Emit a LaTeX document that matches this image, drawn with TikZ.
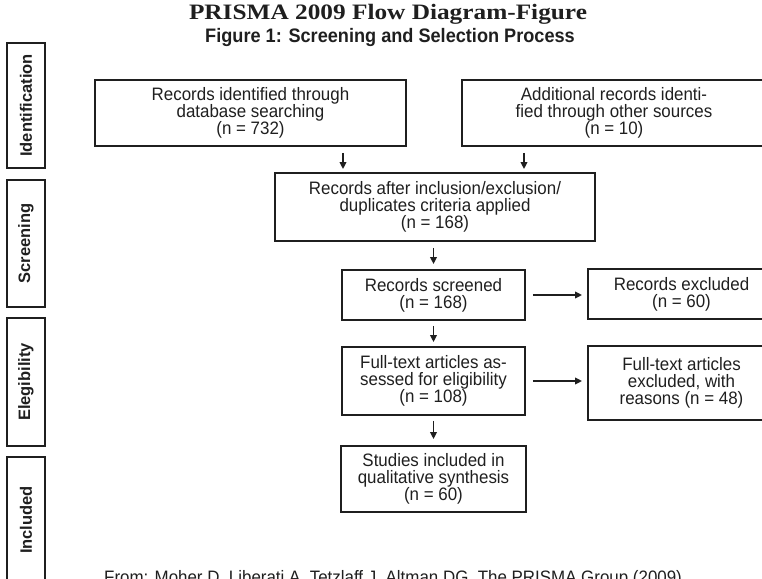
\documentclass[tikz,border=0pt]{standalone}
\usepackage{fontspec}
\setmainfont{Liberation Sans}
\newfontfamily\titlefont{Liberation Serif}[FakeStretch=1.15]
\newfontfamily\subfont{Liberation Sans}[FakeStretch=0.93]
\newfontfamily\boxfont{Liberation Sans}[FakeStretch=0.94]
\usetikzlibrary{arrows.meta}

\begin{document}
\begin{tikzpicture}[x=1pt, y=-1pt, color=black!88,
      -{Triangle[length=7pt,width=6.5pt]}, line width=1.8pt,
      every node/.append style={align=center,font=\boxfont\fontsize{18}{17}\selectfont}]
    \tikzstyle{box} = [draw, rectangle, inner sep=2pt]
    \tikzstyle{phase} = [draw, rectangle, rotate=90, minimum height=38pt,
      font=\bfseries\fontsize{16.5}{16.5}\selectfont]
    \useasboundingbox (0,0) rectangle (762,578);
    \clip (0,0) rectangle (762,578);
    % headings
    \node (title) [anchor=base, font=\titlefont\bfseries\fontsize{22}{22}\selectfont] at (388,20) {PRISMA 2009 Flow Diagram-Figure};
    \node (subtitle) [anchor=base, font=\subfont\bfseries\fontsize{19.5}{19.5}\selectfont] at (390,43) {Figure 1: Screening and Selection Process};
    % phases on the left
    \node (identification) [phase, minimum width=125pt] at (26,105.5) {Identification};
    \node (screening) [phase, minimum width=127pt] at (26,243.5) {Screening};
    \node (eligibility) [phase, minimum width=128pt] at (26,382) {Elegibility};
    \node (includedlab) [phase, minimum width=126pt] at (26,520) {Included};
    % flow boxes
    \node (database) [box, minimum width=311pt, minimum height=66pt] at (250.5,113) {Records identified through\\database searching\\(n = 732)};
    \node (other) [box, minimum width=304pt, minimum height=66pt] at (614,113) {Additional records identi-\\fied through other sources\\(n = 10)};
    \node (afterdup) [box, minimum width=320pt, minimum height=68pt] at (435,207) {Records after inclusion/exclusion/\\duplicates criteria applied\\(n = 168)};
    \node (screened) [box, minimum width=183pt, minimum height=50pt] at (433.5,295) {Records screened\\(n = 168)};
    \node (excl) [box, minimum width=187pt, minimum height=50pt] at (681.5,294) {Records excluded\\(n = 60)};
    \node (fulltext) [box, minimum width=183pt, minimum height=68pt] at (433.5,381) {Full-text articles as-\\sessed for eligibility\\(n = 108)};
    \node (fullexcl) [box, minimum width=187pt, minimum height=74pt] at (681.5,383) {Full-text articles\\excluded, with\\reasons (n = 48)};
    \node (studies) [box, minimum width=185pt, minimum height=66pt] at (433.5,479) {Studies included in\\qualitative synthesis\\(n = 60)};
    \node (source) [anchor=base west] at (100,583) {From: Moher D, Liberati A, Tetzlaff J, Altman DG, The PRISMA Group (2009).};
    % arrows
    \coordinate (dbin) at ([xshift=-92pt]afterdup.north);
    \coordinate (otherin) at ([xshift=89pt]afterdup.north);
    \draw [shorten <=6pt, shorten >=3pt] (database.south -| dbin) -- (dbin);
    \draw [shorten <=6pt, shorten >=3pt] (other.south -| otherin) -- (otherin);
    \draw [shorten <=6pt, shorten >=5pt] (afterdup.south -| screened) -- (screened);
    \draw [shorten <=7pt, shorten >=5pt] (screened.east) -- (screened.east -| excl.west);
    \draw [shorten <=5pt, shorten >=4pt] (screened) -- (fulltext);
    \draw [shorten <=7pt, shorten >=5pt] (fulltext.east) -- (fulltext.east -| fullexcl.west);
    \draw [shorten <=5pt, shorten >=6pt] (fulltext) -- (studies);
\end{tikzpicture}
\end{document}
